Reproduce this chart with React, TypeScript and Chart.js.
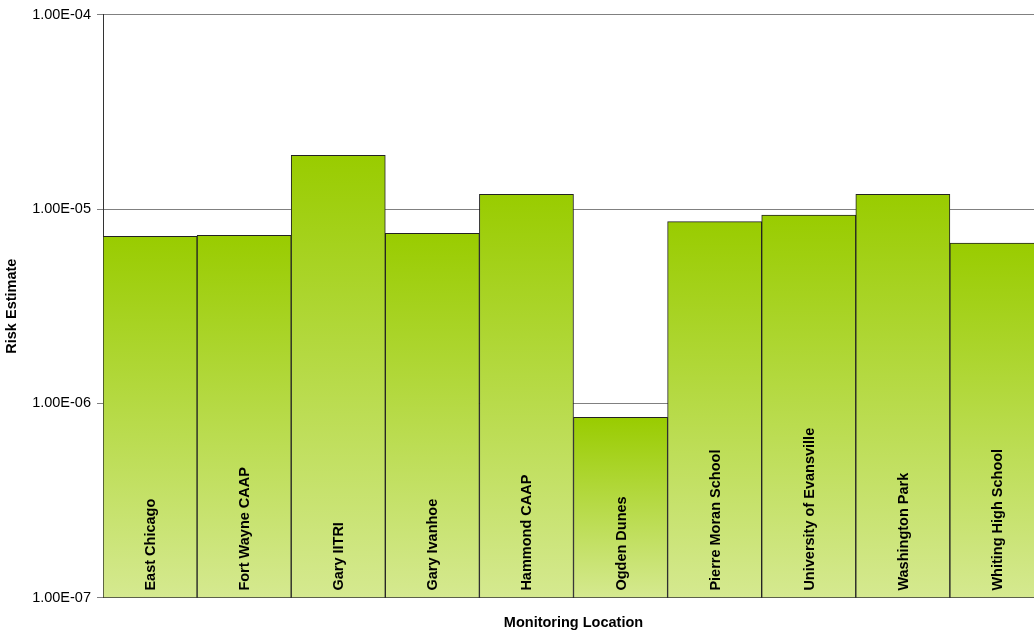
import React, { useEffect, useRef } from "react";
import { Chart, registerables } from "chart.js";

Chart.register(...registerables);

const locations = [
  "East Chicago",
  "Fort Wayne CAAP",
  "Gary IITRI",
  "Gary Ivanhoe",
  "Hammond CAAP",
  "Ogden Dunes",
  "Pierre Moran School",
  "University of Evansville",
  "Washington Park",
  "Whiting High School",
];

const riskEstimate = [7.24e-6, 7.32e-6, 1.89e-5, 7.5e-6, 1.19e-5, 8.47e-7, 8.61e-6, 9.31e-6, 1.19e-5, 6.68e-6];

const yTickValues = [1e-7, 1e-6, 1e-5, 1e-4];
const yTickLabels = ["1.00E-07", "1.00E-06", "1.00E-05", "1.00E-04"];

const FONT = "'Liberation Sans', Arial, sans-serif";

export default function App() {
  const ref = useRef<HTMLCanvasElement | null>(null);

  useEffect(() => {
    const canvas = ref.current;
    if (!canvas) return;

    const barLabels = {
      id: "barLabels",
      afterDatasetsDraw(chart: any) {
        const ctx = chart.ctx;
        const meta = chart.getDatasetMeta(0);
        ctx.save();
        ctx.font = `bold 14.5px ${FONT}`;
        ctx.fillStyle = "#000";
        ctx.textAlign = "left";
        ctx.textBaseline = "middle";
        meta.data.forEach((el: any, i: number) => {
          ctx.save();
          ctx.translate(el.x + 1, chart.chartArea.bottom - 7);
          ctx.rotate(-Math.PI / 2);
          ctx.fillText(locations[i], 0, 0);
          ctx.restore();
        });
        ctx.restore();
      },
    };

    const chart = new Chart(canvas, {
      type: "bar",
      data: {
        labels: locations,
        datasets: [
          {
            data: riskEstimate,
            backgroundColor: (c: any) => {
              const ch = c.chart;
              const ys = ch.scales && ch.scales.y;
              if (!ys || c.type !== "data" || !isFinite(ys.bottom)) return "#99cc00";
              const top = ys.getPixelForValue(c.raw);
              const bottom = ys.bottom;
              if (!isFinite(top)) return "#99cc00";
              const g = ch.ctx.createLinearGradient(0, top, 0, bottom);
              g.addColorStop(0, "#99cc00");
              g.addColorStop(1, "#d5e990");
              return g;
            },
            borderColor: "#222",
            borderWidth: 1,
            categoryPercentage: 1,
            barPercentage: 1,
          },
        ],
      },
      options: {
        animation: false,
        responsive: false,
        maintainAspectRatio: false,
        layout: { padding: { top: 14, right: 4, bottom: 0, left: 0 } },
        plugins: {
          legend: { display: false },
          tooltip: { enabled: false },
          title: { display: false },
        },
        scales: {
          x: {
            type: "category",
            grid: { display: false, drawTicks: false },
            border: { display: true, color: "#333", width: 1 },
            ticks: { display: false },
            title: {
              display: true,
              text: "Monitoring Location",
              color: "#000",
              font: { family: FONT, size: 14.5, weight: "bold" },
              padding: { top: 17, bottom: 3 },
            },
          },
          y: {
            type: "logarithmic",
            min: 1e-7,
            max: 1e-4,
            afterBuildTicks: (scale: any) => {
              scale.ticks = yTickValues.map((v) => ({ value: v }));
            },
            afterFit: (scale: any) => {
              scale.width = 103;
            },
            grid: {
              color: "#808080",
              tickColor: "#808080",
              tickLength: 6,
              lineWidth: 1,
            },
            border: { display: true, color: "#333", width: 1 },
            ticks: {
              color: "#000",
              padding: 6,
              font: { family: FONT, size: 14.5 },
              callback: (_v: any, i: number) => yTickLabels[i],
            },
            title: {
              display: true,
              text: "Risk Estimate",
              color: "#000",
              font: { family: FONT, size: 14.5, weight: "bold" },
              padding: { top: 3, bottom: 0 },
            },
          },
        },
      },
      plugins: [barLabels],
    } as any);

    return () => chart.destroy();
  }, []);

  return (
    <div style={{ position: "fixed", left: 0, top: 0, width: 1034, height: 635, overflow: "hidden", background: "#fff" }}>
      <canvas ref={ref} width={1048} height={635} style={{ display: "block", width: 1048, height: 635 }} />
    </div>
  );
}
